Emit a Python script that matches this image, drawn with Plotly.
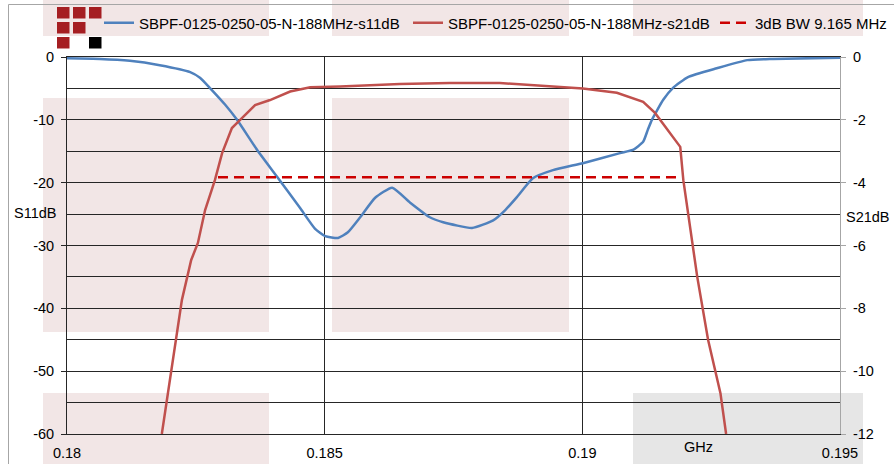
import plotly.graph_objects as go

# ---------------- data ----------------
s11_freq = [0.18000, 0.18064, 0.18122, 0.18180, 0.18239, 0.18258, 0.18277, 0.18307,
            0.18330, 0.18369, 0.18408, 0.18452, 0.18481, 0.18501, 0.18526, 0.18545,
            0.18569, 0.18598, 0.18631, 0.18666, 0.18704, 0.18730, 0.18786, 0.18827,
            0.18850, 0.18873, 0.18904, 0.18943, 0.19001, 0.19073, 0.19098, 0.19118,
            0.19127, 0.19135, 0.19157, 0.19176, 0.19205, 0.19261, 0.19320, 0.19370,
            0.19500]
s11_db = [-0.2, -0.3, -0.6, -1.3, -2.4, -3.3, -4.9, -7.6,
          -10.0, -14.8, -19.1, -24.0, -27.3, -28.5, -28.8, -27.9,
          -25.5, -22.4, -20.8, -23.2, -25.5, -26.3, -27.2, -26.0,
          -24.4, -22.3, -19.3, -18.0, -16.9, -15.3, -14.8, -13.5,
          -11.6, -10.0, -6.8, -4.9, -3.2, -1.8, -0.5, -0.3,
          -0.1]

s21_freq = [0.18184, 0.18204, 0.18223, 0.18241, 0.18254, 0.18268, 0.18287, 0.18301,
            0.18320, 0.18336, 0.18365, 0.18394, 0.18433, 0.18472, 0.18530, 0.18646,
            0.18743, 0.18840, 0.18937, 0.19001, 0.19067, 0.19118, 0.19141, 0.19166,
            0.19190, 0.19196, 0.19205, 0.19223, 0.19244, 0.19268, 0.19279]
s21_db = [-12.0, -9.87, -7.73, -6.46, -5.92, -4.87, -3.92, -3.06,
          -2.26, -2.0, -1.53, -1.37, -1.10, -0.96, -0.94, -0.86,
          -0.83, -0.83, -0.92, -1.00, -1.14, -1.43, -1.78, -2.32,
          -2.86, -3.92, -4.97, -7.0, -9.0, -10.7, -12.0]

bw_freq = [0.18293, 0.19193]
bw_db = [-3.83, -3.83]

names = ["SBPF-0125-0250-05-N-188MHz-s11dB",
         "SBPF-0125-0250-05-N-188MHz-s21dB",
         "3dB BW 9.165 MHz"]

x_ticks = [0.18, 0.185, 0.19, 0.195]
x_ticktext = ["0.18", "0.185", "0.19", "0.195"]
y1_ticks = [0, -10, -20, -30, -40, -50, -60]
y1_ticktext = ["0", "-10", "-20", "-30", "-40", "-50", "-60"]
y1_minor = [-5, -15, -25, -35, -45, -55]
y2_ticks = [0, -2, -4, -6, -8, -10, -12]
y2_ticktext = ["0", "-2", "-4", "-6", "-8", "-10", "-12"]

# ---------------- figure ----------------
W, H = 894, 464
ML, MR, MT, MB = 67, 54, 57, 30
PW, PH = W - ML - MR, H - MT - MB


def px(x):
    return (x - ML) / PW


def py(y):
    return (H - MB - y) / PH


FONT = "Liberation Sans, Arial, sans-serif"
BLUE = "#4f81bd"
RED = "#c0504d"
DRED = "#cc0000"
PINK = "#f2e6e6"
GRAYBG = "#e6e6e6"
GRID = "#262626"

fig = go.Figure()
fig.add_trace(go.Scatter(x=s11_freq, y=s11_db, mode="lines", name=names[0],
                         line=dict(color=BLUE, width=2.5, shape="spline", smoothing=0.5),
                         yaxis="y", legend="legend"))
fig.add_trace(go.Scatter(x=s21_freq, y=s21_db, mode="lines", name=names[1],
                         line=dict(color=RED, width=2.5), yaxis="y2", legend="legend2"))
fig.add_trace(go.Scatter(x=bw_freq, y=bw_db, mode="lines", name=names[2],
                         line=dict(color=DRED, width=2.5, dash="10px,6px"), yaxis="y2",
                         legend="legend3"))

shapes = []
# background watermark blocks
blocks = [((43, 0), (269, 36), PINK), ((332, 0), (569, 36), PINK), ((633, 0), (863, 36), PINK),
          ((43, 98), (269, 332), PINK), ((332, 98), (569, 332), PINK),
          ((43, 393), (269, 470), PINK), ((633, 393), (863, 470), GRAYBG)]
for (x0, y0), (x1, y1), c in blocks:
    shapes.append(dict(type="rect", xref="paper", yref="paper", layer="below",
                       x0=px(x0), x1=px(x1), y0=py(y1), y1=py(y0),
                       fillcolor=c, line=dict(width=0)))
# logo squares
cols = [57, 73, 89]
rows = [7, 22, 37]
cells = [(0, 0, "#a51e22"), (0, 1, "#a51e22"), (0, 2, "#a51e22"),
         (1, 0, "#a51e22"), (1, 1, "#a51e22"), (2, 0, "#a51e22"), (2, 2, "#000000")]
for r, c, col in cells:
    shapes.append(dict(type="rect", xref="paper", yref="paper", layer="above",
                       x0=px(cols[c]), x1=px(cols[c] + 12.5), y0=py(rows[r] + 11.5), y1=py(rows[r]),
                       fillcolor=col, line=dict(width=0)))
# outer border
shapes.append(dict(type="rect", xref="paper", yref="paper", layer="below",
                   x0=px(8.5), x1=px(905), y0=py(475), y1=py(4.5),
                   fillcolor="rgba(0,0,0,0)", line=dict(color="#a6a6a6", width=1)))

annotations = [
    dict(text="S11dB", xref="paper", yref="paper", x=px(34.5), y=py(213), showarrow=False,
         xanchor="center", yanchor="middle", font=dict(family=FONT, size=14.5, color="#000")),
    dict(text="S21dB", xref="paper", yref="paper", x=px(867.5), y=py(217), showarrow=False,
         xanchor="center", yanchor="middle", font=dict(family=FONT, size=14.5, color="#000")),
    dict(text="GHz", xref="paper", yref="paper", x=px(698), y=py(447), showarrow=False,
         xanchor="center", yanchor="middle", font=dict(family=FONT, size=14.5, color="#000")),
]


def leg(x_px):
    return dict(orientation="h", xref="container", yref="container",
                x=x_px / W, xanchor="left", y=1 - 23 / H, yanchor="middle",
                bgcolor="rgba(0,0,0,0)", borderwidth=0,
                font=dict(family=FONT, size=15, color="#000"), itemwidth=30)


fig.update_layout(
    width=W, height=H,
    margin=dict(l=ML, r=MR, t=MT, b=MB, pad=0, autoexpand=False),
    paper_bgcolor="white", plot_bgcolor="rgba(0,0,0,0)",
    font=dict(family=FONT, size=14.5, color="#000"),
    showlegend=True,
    legend=leg(99), legend2=leg(408), legend3=leg(715),
    xaxis=dict(range=[0.18, 0.195], tickvals=x_ticks, ticktext=x_ticktext,
               showgrid=True, gridcolor=GRID, gridwidth=1, zeroline=False,
               showline=True, linecolor=GRID, linewidth=1, mirror=True,
               ticks="", ticklabelstandoff=6,
               tickfont=dict(family=FONT, size=14.5, color="#000")),
    yaxis=dict(range=[-60, 0], tickvals=y1_ticks, ticktext=y1_ticktext,
               showgrid=True, gridcolor=GRID, gridwidth=1,
               zeroline=False, showline=True, linecolor=GRID, linewidth=1,
               ticks="outside", ticklen=5, tickcolor=GRID, ticklabelstandoff=4,
               minor=dict(tickvals=y1_minor, showgrid=True, gridcolor=GRID, gridwidth=1, ticks=""),
               tickfont=dict(family=FONT, size=14.5, color="#000")),
    yaxis2=dict(range=[-12, 0], tickvals=y2_ticks, ticktext=y2_ticktext,
                overlaying="y", side="right",
                showgrid=False, zeroline=False, showline=True, linecolor="#a6a6a6", linewidth=1,
                ticks="outside", ticklen=5, tickcolor="#a6a6a6", ticklabelstandoff=4,
                tickfont=dict(family=FONT, size=14.5, color="#000")),
    shapes=shapes,
    annotations=annotations,
)

fig.write_html("out.html", config={"displayModeBar": False},
               post_script="document.body.style.margin='0';document.body.style.overflow='hidden';")
